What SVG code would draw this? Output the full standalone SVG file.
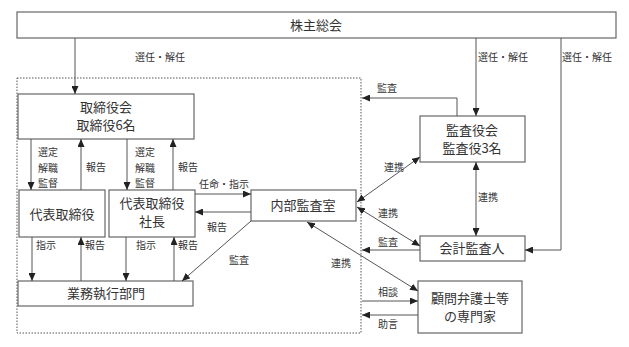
<svg xmlns="http://www.w3.org/2000/svg" width="629" height="347" viewBox="0 0 629 347">
<defs>
<style>
.box{fill:#fff;stroke:#666;stroke-width:1.2}
.c{fill:none;stroke:#555;stroke-width:1}
.n{font-family:"Noto Sans CJK JP","Noto Sans",sans-serif;font-size:13px;fill:#333;text-anchor:middle}
.l{font-family:"Noto Sans CJK JP","Noto Sans",sans-serif;font-size:10px;fill:#333}
</style>
<marker id="ah" markerUnits="userSpaceOnUse" markerWidth="8" markerHeight="7" refX="8" refY="3.5" orient="auto-start-reverse">
<path d="M0,0 L8,3.5 L0,7 z" fill="#222"/>
</marker>
</defs>
<rect width="629" height="347" fill="#fff"/>
<rect x="17" y="78" width="344" height="255" fill="none" stroke="#555" stroke-width="1" stroke-dasharray="1.5,1.5"/>
<g id="shareholders"><rect class="box" x="17" y="12" width="599" height="26"/><text class="n" x="316" y="29.5">株主総会</text></g>
<g id="board"><rect class="box" x="18" y="94" width="176" height="45"/><text class="n" x="106" y="111.5">取締役会</text><text class="n" x="106" y="129.5">取締役6名</text></g>
<g id="rep"><rect class="box" x="19" y="190" width="86" height="47"/><text class="n" x="62" y="218.5">代表取締役</text></g>
<g id="president"><rect class="box" x="109" y="190" width="86" height="47"/><text class="n" x="152" y="208">代表取締役</text><text class="n" x="152" y="226">社長</text></g>
<g id="ops"><rect class="box" x="18" y="281" width="175" height="25"/><text class="n" x="106" y="298">業務執行部門</text></g>
<g id="audit"><rect class="box" x="251" y="190" width="105" height="31"/><text class="n" x="303" y="210">内部監査室</text></g>
<g id="kansayaku"><rect class="box" x="420" y="116" width="105" height="46"/><text class="n" x="472" y="134.5">監査役会</text><text class="n" x="472" y="152.5">監査役3名</text></g>
<g id="accountant"><rect class="box" x="420" y="236" width="105" height="25"/><text class="n" x="472" y="253">会計監査人</text></g>
<g id="experts"><rect class="box" x="418" y="281" width="104" height="52"/><text class="n" x="470" y="303">顧問弁護士等</text><text class="n" x="470" y="321">の専門家</text></g>
<g id="connectors">
<path class="c" d="M75,38 V94" marker-end="url(#ah)"/>
<path class="c" d="M476,38 V116" marker-end="url(#ah)"/>
<path class="c" d="M561,38 V250 H525" marker-end="url(#ah)"/>
<path class="c" d="M457,116 V98 H362" marker-end="url(#ah)"/>
<path class="c" d="M31,139 V190" marker-end="url(#ah)"/>
<path class="c" d="M81,190 V139" marker-end="url(#ah)"/>
<path class="c" d="M127,139 V190" marker-end="url(#ah)"/>
<path class="c" d="M173,190 V139" marker-end="url(#ah)"/>
<path class="c" d="M32,237 V281" marker-end="url(#ah)"/>
<path class="c" d="M81,281 V237" marker-end="url(#ah)"/>
<path class="c" d="M126,237 V281" marker-end="url(#ah)"/>
<path class="c" d="M174,281 V237" marker-end="url(#ah)"/>
<path class="c" d="M195,194 H251" marker-end="url(#ah)"/>
<path class="c" d="M251,212 H195" marker-end="url(#ah)"/>
<path class="c" d="M251,221 L182,281" marker-end="url(#ah)"/>
<path class="c" d="M357,202 L420,157" marker-start="url(#ah)" marker-end="url(#ah)"/>
<path class="c" d="M357,207 L420,246" marker-start="url(#ah)" marker-end="url(#ah)"/>
<path class="c" d="M307,222 L418,291" marker-start="url(#ah)" marker-end="url(#ah)"/>
<path class="c" d="M476,162 V236" marker-start="url(#ah)" marker-end="url(#ah)"/>
<path class="c" d="M420,250 H362" marker-end="url(#ah)"/>
<path class="c" d="M362,301 H418" marker-end="url(#ah)"/>
<path class="c" d="M418,315 H362" marker-end="url(#ah)"/>
</g>
<g id="labels">
<text class="l" x="135" y="61">選任・解任</text>
<text class="l" x="478" y="61">選任・解任</text>
<text class="l" x="562" y="61">選任・解任</text>
<text class="l" x="377" y="92">監査</text>
<text class="l" x="38" y="156">選定</text><text class="l" x="38" y="172">解職</text><text class="l" x="38" y="187">監督</text>
<text class="l" x="86" y="171">報告</text>
<text class="l" x="135" y="156">選定</text><text class="l" x="135" y="172">解職</text><text class="l" x="135" y="187">監督</text>
<text class="l" x="178" y="171">報告</text>
<text class="l" x="199" y="188">任命・指示</text>
<text class="l" x="207" y="231">報告</text>
<text class="l" x="229" y="264">監査</text>
<text class="l" x="36" y="249">指示</text>
<text class="l" x="85" y="249">報告</text>
<text class="l" x="136" y="249">指示</text>
<text class="l" x="178" y="249">報告</text>
<text class="l" x="384" y="171">連携</text>
<text class="l" x="378" y="217">連携</text>
<text class="l" x="478" y="201">連携</text>
<text class="l" x="378" y="246">監査</text>
<text class="l" x="331" y="267">連携</text>
<text class="l" x="378" y="296">相談</text>
<text class="l" x="378" y="328">助言</text>
</g>
</svg>
